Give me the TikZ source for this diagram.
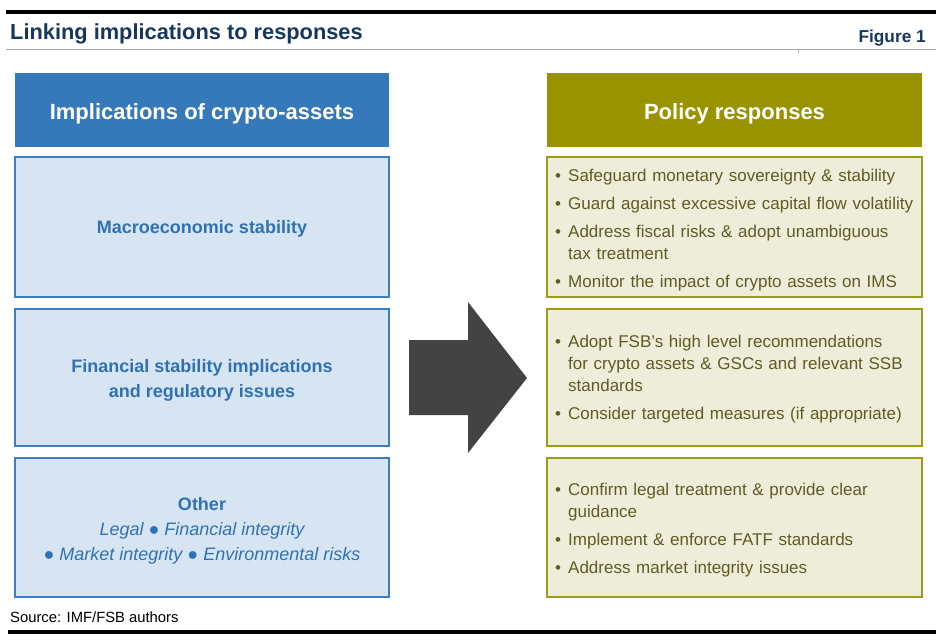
\documentclass[tikz,border=0pt]{standalone}
\usepackage{fontspec}
\setmainfont{Liberation Sans}
\definecolor{navy}{HTML}{17375E}
\definecolor{hblue}{HTML}{3579BA}
\definecolor{lfill}{HTML}{D7E5F3}
\definecolor{lborder}{HTML}{3E7EBF}
\definecolor{ltext}{HTML}{2F72B3}
\definecolor{holive}{HTML}{9A9300}
\definecolor{rfill}{HTML}{EEEDDA}
\definecolor{rborder}{HTML}{9E9B14}
\definecolor{rtext}{HTML}{5E5C22}
\definecolor{arrowgray}{HTML}{434343}
\newcommand{\bitem}[1]{\par\hyphenpenalty=10000\relax\exhyphenpenalty=10000\relax\hangindent=13pt\hangafter=1\noindent\makebox[13pt][l]{•}#1}
\tikzset{
  header/.style={draw=none, minimum height=74pt, inner sep=0pt},
  htext/.style={anchor=base, inner sep=0pt, text=white, font=\fontsize{22}{26}\selectfont\bfseries},
  lbox/.style={draw=lborder, fill=lfill, line width=2pt, minimum width=374pt, inner sep=0pt},
  ltextblock/.style={inner sep=0pt, text=ltext, align=center, font=\fontsize{18}{25}\selectfont},
  rbox/.style={draw=rborder, fill=rfill, line width=2pt, minimum width=375pt, inner sep=0pt},
  rtextblock/.style={anchor=west, inner sep=0pt, text width=360pt, align=left, text=rtext, font=\fontsize{17}{22}\selectfont\setlength{\parskip}{6pt}},
}
\begin{document}
\begin{tikzpicture}[x=1pt,y=-1pt]
\path[use as bounding box] (0,0) rectangle (936,642);
% top rules
\fill[black] (6,10) rectangle (936,14);
\draw[gray!70, line width=1pt] (6,50) -- (936,50);
\draw[gray!70, line width=0.6pt] (798,50) -- (798,53);
\node[anchor=base west, inner sep=0pt, text=navy, font=\fontsize{21.8}{26}\selectfont\bfseries] (title) at (10,40) {Linking implications to responses};
\node[anchor=base east, inner sep=0pt, text=navy, font=\fontsize{17.3}{20}\selectfont\bfseries] (fig) at (926,42) {Figure 1};
% left column
\node[header, fill=hblue, minimum width=374pt] (lh) at (202,110) {};
\node[htext] (lht) at (202,119) {Implications of crypto-assets};
\node[lbox, minimum height=140pt] (l1) at (202,227) {};
\node[lbox, minimum height=137pt] (l2) at (202,377.5) {};
\node[lbox, minimum height=139pt] (l3) at (202,527.5) {};
\node[ltextblock] (l1t) at (202,229) {\bfseries Macroeconomic stability};
\node[ltextblock] (l2t) at (202,380.5) {\bfseries Financial stability implications\\\bfseries and regulatory issues};
\node[ltextblock] (l3t) at (202,530.5) {\bfseries Other\\\itshape Legal ● Financial integrity\\\itshape ● Market integrity ● Environmental risks};
% right column
\node[header, fill=holive, minimum width=375pt] (rh) at (734.5,110) {};
\node[htext] (rht) at (734.5,119) {Policy responses};
\node[rbox, minimum height=140pt] (r1) at (734.5,227) {};
\node[rbox, minimum height=137pt] (r2) at (734.5,377.5) {};
\node[rbox, minimum height=139pt] (r3) at (734.5,527.5) {};
\node[rtextblock] (t1) at (555,222) {\bitem{Safeguard monetary sovereignty \& stability}\bitem{Guard against excessive capital flow volatility}\bitem{Address fiscal risks \& adopt unambiguous tax treatment}\bitem{Monitor the impact of crypto assets on IMS}};
\node[rtextblock] (t2) at (555,371.5) {\bitem{Adopt FSB’s high level recommendations for crypto assets \& GSCs and relevant SSB standards}\bitem{Consider targeted measures (if appropriate)}};
\node[rtextblock] (t3) at (555,522) {\bitem{Confirm legal treatment \& provide clear guidance}\bitem{Implement \& enforce FATF standards}\bitem{Address market integrity issues}};
% block arrow
\fill[arrowgray] (409,340) -- (468,340) -- (468,302) -- (527,378) -- (468,453) -- (468,415) -- (409,415) -- cycle;
% source and bottom rule
\node[anchor=base west, inner sep=0pt, font=\fontsize{14.8}{17}\selectfont] (src) at (10,622) {Source: IMF/FSB authors};
\fill[black] (8,630) rectangle (936,634);
\end{tikzpicture}
\end{document}
